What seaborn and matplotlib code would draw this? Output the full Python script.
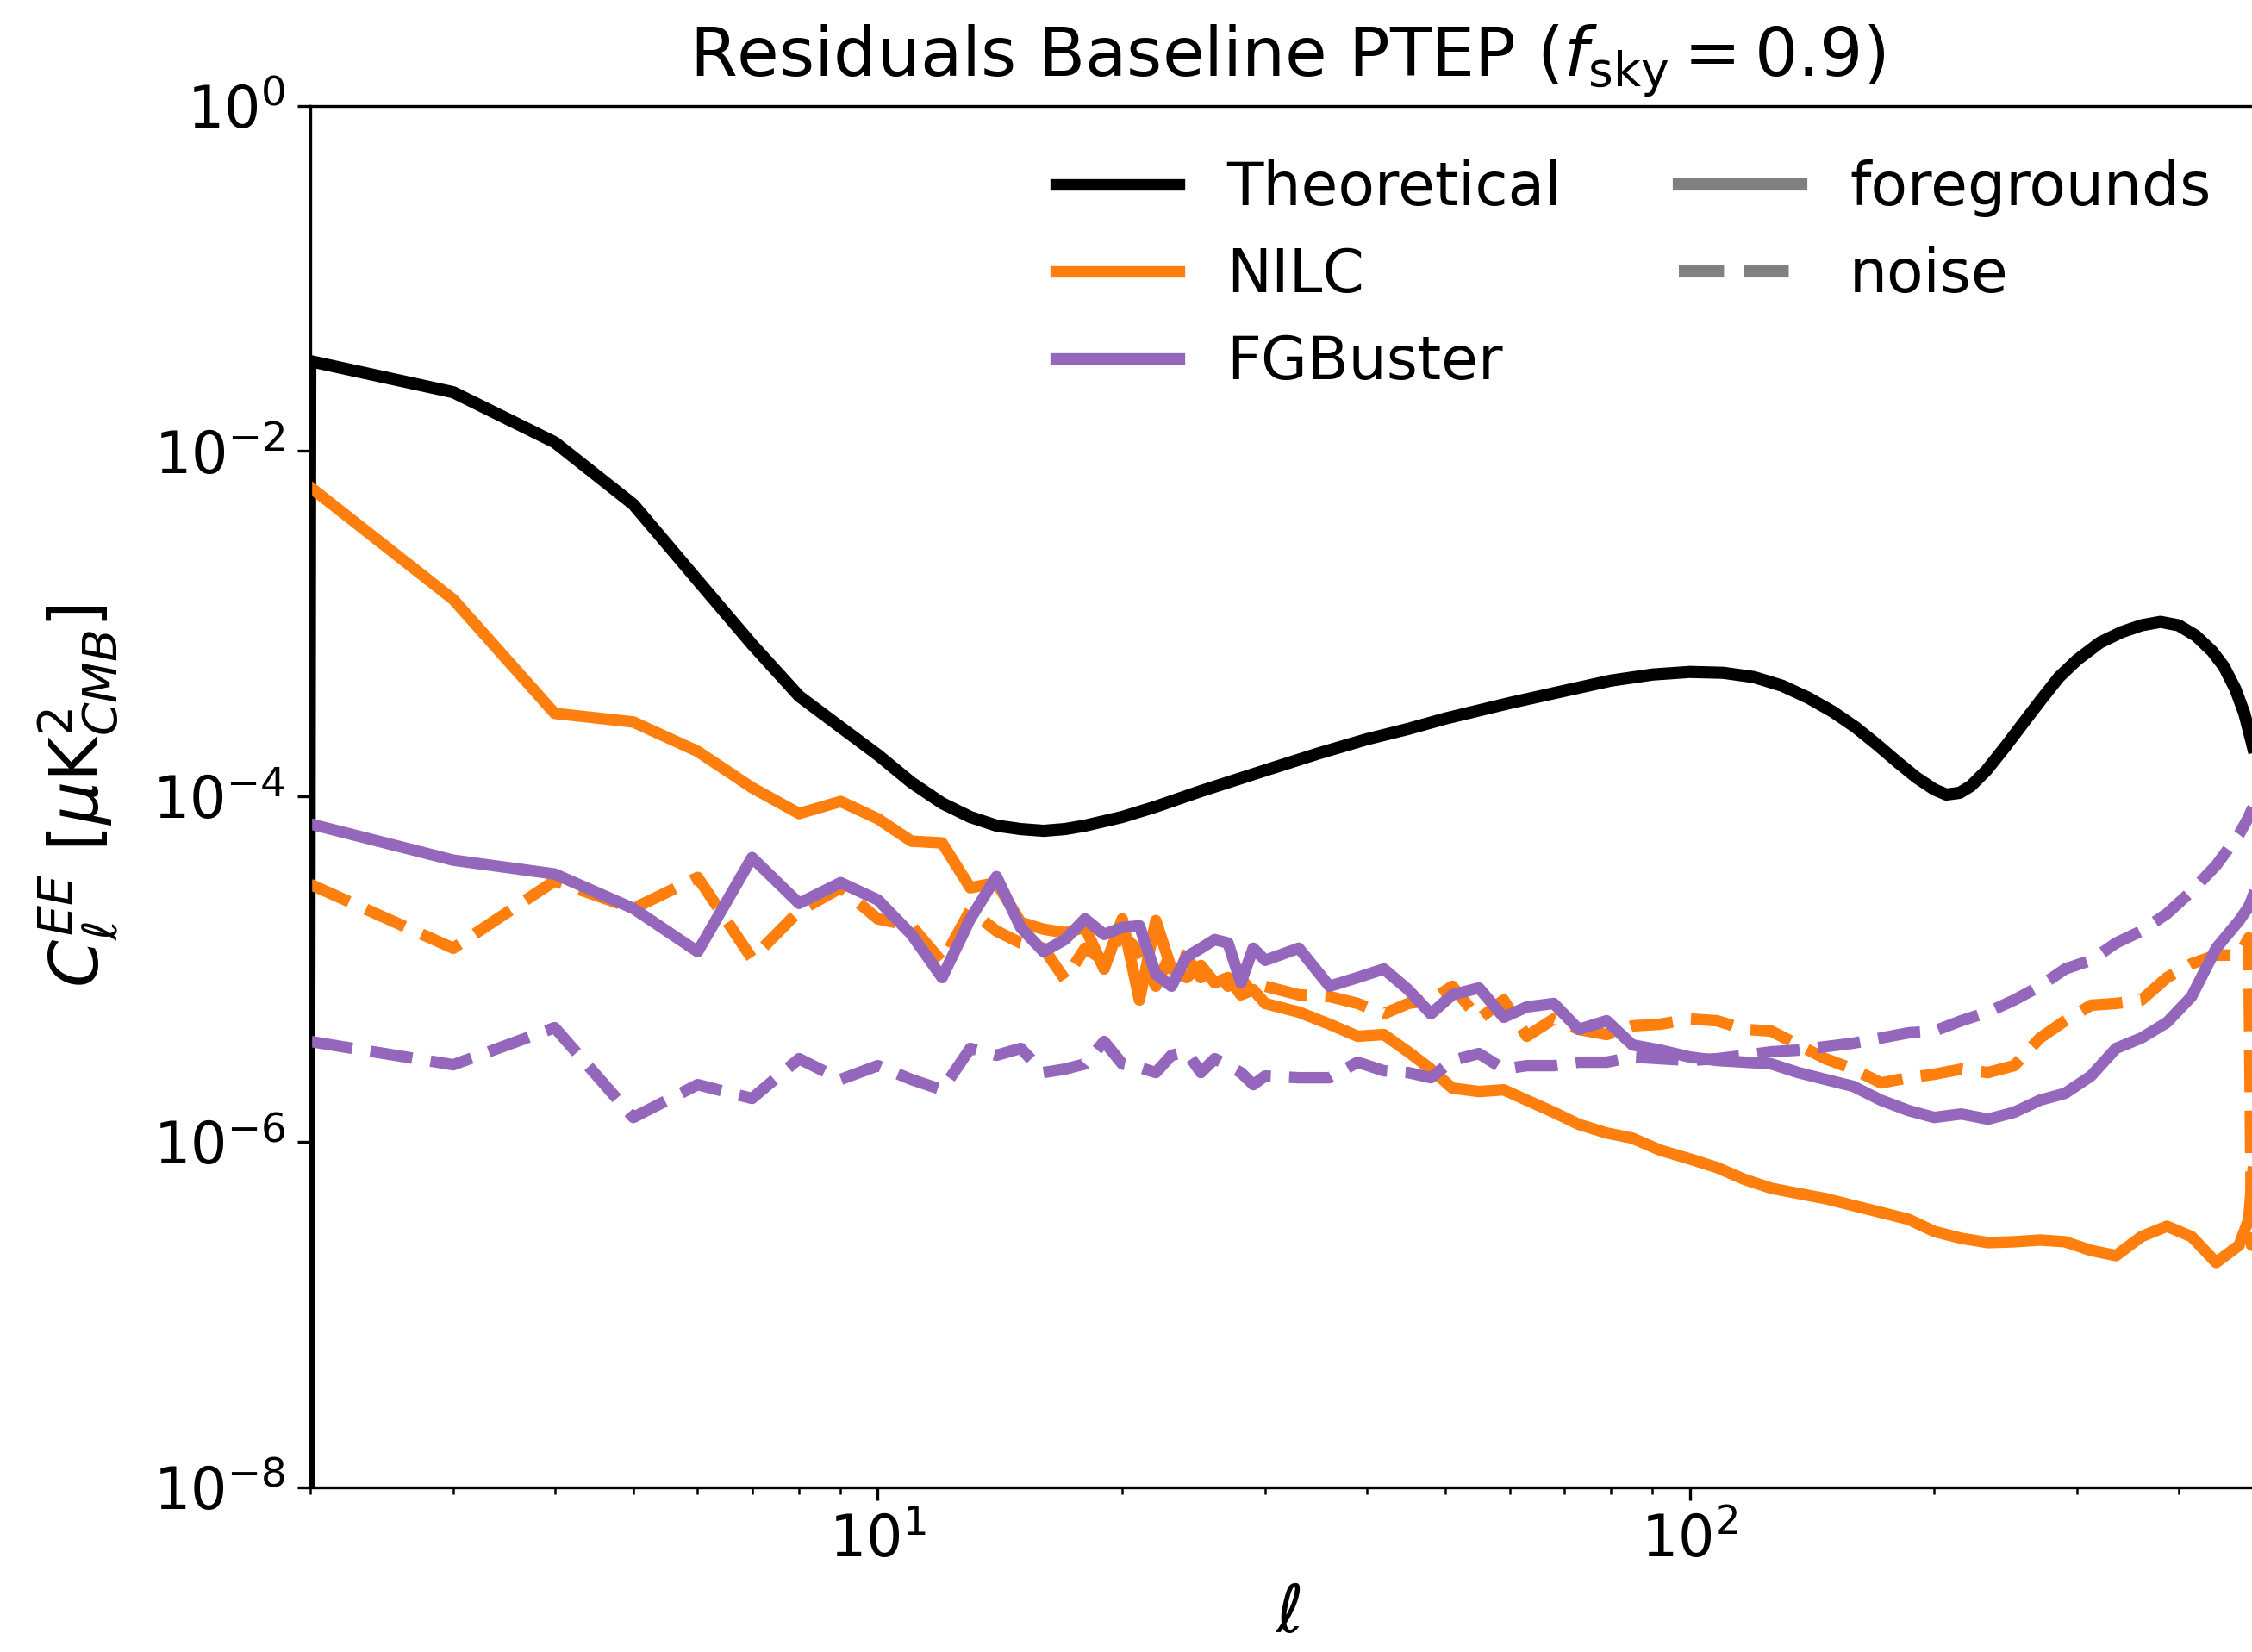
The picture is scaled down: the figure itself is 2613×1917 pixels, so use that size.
import numpy as np
import pandas as pd
import matplotlib
matplotlib.use("Agg")
import matplotlib.pyplot as plt
from matplotlib.lines import Line2D
import seaborn as sns

# ---------------- data ----------------
ell_theory = [0, 1, 2, 3, 4, 5, 6, 7, 8, 9, 10, 11, 12, 13, 14, 15, 16, 17, 18, 20, 22, 25,
              30, 35, 40, 45, 50, 60, 70, 80, 90, 100, 110, 120, 130, 140, 150, 160, 170,
              180, 190, 200, 207, 215, 222, 232, 245, 260, 272, 285, 300, 320, 340, 360,
              380, 400, 420, 440, 455, 470, 482, 493, 511]
log_cl_theory = [None, None, -1.48, -1.66, -1.95, -2.31, -2.75, -3.12, -3.42, -3.60, -3.76,
                 -3.92, -4.04, -4.12, -4.17, -4.19, -4.20, -4.19, -4.17, -4.12, -4.06, -3.97,
                 -3.85, -3.75, -3.67, -3.61, -3.55, -3.46, -3.39, -3.33, -3.295, -3.28,
                 -3.285, -3.31, -3.36, -3.43, -3.51, -3.60, -3.70, -3.80, -3.89, -3.96,
                 -3.99, -3.98, -3.94, -3.85, -3.71, -3.55, -3.43, -3.31, -3.21, -3.11, -3.05,
                 -3.01, -2.99, -3.01, -3.07, -3.16, -3.25, -3.38, -3.52, -3.70, -4.00]

ell_res = [2, 3, 4, 5, 6, 7, 8, 9, 10, 11, 12, 13, 14, 15, 16, 17, 18, 19, 20, 21, 22, 23,
           24, 25, 26, 27, 28, 29, 30, 33, 36, 39, 42, 45, 48, 51, 55, 59, 63, 68, 73, 79,
           85, 92, 100, 108, 117, 126, 136, 147, 159, 172, 186, 200, 216, 233, 251, 270,
           290, 312, 335, 360, 387, 415, 445, 475, 488, 492, 511]

log_nilc_fg = [-2.21, -2.86, -3.52, -3.57, -3.74, -3.95, -4.10, -4.03, -4.13, -4.26, -4.27,
               -4.53, -4.50, -4.73, -4.77, -4.79, -4.76, -5.00, -4.71, -5.18, -4.72, -5.00,
               -5.05, -4.98, -5.08, -5.05, -5.15, -5.12, -5.20, -5.25, -5.32, -5.39, -5.38,
               -5.48, -5.58, -5.69, -5.71, -5.70, -5.76, -5.83, -5.90, -5.95, -5.98, -6.05,
               -6.10, -6.15, -6.22, -6.27, -6.30, -6.33, -6.37, -6.41, -6.45, -6.52, -6.56,
               -6.585, -6.58, -6.57, -6.58, -6.63, -6.66, -6.55, -6.49, -6.55, -6.70, -6.60,
               -6.45, -6.25, -5.50]

log_nilc_noise = [-4.51, -4.88, -4.49, -4.65, -4.47, -4.94, -4.665, -4.53, -4.71, -4.75,
                  -4.96, -4.66, -4.78, -4.85, -4.88, -5.06, -4.88, -4.95, -4.80, -4.90, -5.10,
                  -4.90, -4.93, -5.05, -5.00, -5.10, -5.05, -5.15, -5.10, -5.15, -5.16, -5.20,
                  -5.26, -5.20, -5.18, -5.10, -5.29, -5.18, -5.39, -5.29, -5.35, -5.38, -5.33,
                  -5.32, -5.29, -5.30, -5.35, -5.36, -5.44, -5.52, -5.58, -5.66, -5.63, -5.61,
                  -5.58, -5.60, -5.56, -5.40, -5.30, -5.21, -5.20, -5.18, -5.05, -4.97, -4.92,
                  -4.92, -4.82, -6.60, -6.60]

log_fgb_fg = [-4.16, -4.37, -4.45, -4.65, -4.90, -4.355, -4.62, -4.50, -4.60, -4.80, -5.05,
              -4.71, -4.465, -4.76, -4.90, -4.83, -4.71, -4.80, -4.76, -4.75, -5.03, -5.10,
              -4.93, -4.88, -4.83, -4.85, -5.08, -4.88, -4.95, -4.88, -5.10, -5.05, -5.00,
              -5.12, -5.26, -5.15, -5.11, -5.28, -5.22, -5.20, -5.35, -5.30, -5.44, -5.47,
              -5.51, -5.53, -5.54, -5.55, -5.60, -5.64, -5.68, -5.76, -5.82, -5.86, -5.84,
              -5.87, -5.83, -5.76, -5.72, -5.62, -5.46, -5.40, -5.31, -5.16, -4.88, -4.72,
              -4.64, -4.60, -4.40]

log_fgb_noise = [-5.42, -5.555, -5.34, -5.86, -5.67, -5.75, -5.52, -5.64, -5.56, -5.64,
                 -5.70, -5.46, -5.50, -5.46, -5.60, -5.58, -5.55, -5.42, -5.55, -5.57, -5.60,
                 -5.50, -5.48, -5.60, -5.52, -5.56, -5.60, -5.67, -5.62, -5.63, -5.63, -5.54,
                 -5.59, -5.60, -5.63, -5.53, -5.49, -5.58, -5.56, -5.56, -5.54, -5.54, -5.51,
                 -5.52, -5.53, -5.52, -5.50, -5.48, -5.47, -5.45, -5.43, -5.40, -5.37, -5.36,
                 -5.30, -5.25, -5.18, -5.10, -5.00, -4.95, -4.85, -4.78, -4.68, -4.55, -4.40,
                 -4.22, -4.12, -4.08, -3.95]

methods = ["NILC", "FGBuster"]
kinds = ["foregrounds", "noise"]
colors = {"NILC": "#ff7f0e", "FGBuster": "#9467bd"}
legend_labels = ["Theoretical", "NILC", "FGBuster", "foregrounds", "noise"]
yticks = [1e0, 1e-2, 1e-4, 1e-6, 1e-8]
title = r"Residuals Baseline PTEP ($f_{\rm sky} = 0.9$)"

# ---------------- tables ----------------
series = {("NILC", "foregrounds"): log_nilc_fg,
          ("NILC", "noise"): log_nilc_noise,
          ("FGBuster", "foregrounds"): log_fgb_fg,
          ("FGBuster", "noise"): log_fgb_noise}
rows = []
for (m, k), vals in series.items():
    for l, v in zip(ell_res, vals):
        rows.append({"ell": l, "cl": 10.0 ** v, "method": m, "kind": k})
df_res = pd.DataFrame(rows)
# monopole/dipole are zero in the theory spectrum
df_th = pd.DataFrame({"ell": ell_theory,
                      "cl": [0.0 if v is None else 10.0 ** v for v in log_cl_theory]})

# ---------------- figure ----------------
W, H, DPI = 2613, 1917, 300
fig = plt.figure(figsize=(W / DPI, H / DPI), dpi=DPI)
ax = fig.add_axes([360 / W, 1 - 1725.5 / H, 2268 / W, (1725.5 - 122.5) / H])

sns.lineplot(data=df_th, x="ell", y="cl", color="black", linewidth=3.4,
             estimator=None, sort=True, ax=ax, legend=False)
sns.lineplot(data=df_res, x="ell", y="cl", hue="method", hue_order=methods,
             style="kind", style_order=kinds, palette=colors,
             dashes={"foregrounds": "", "noise": (3.7, 1.6)},
             linewidth=3.2, estimator=None, sort=True, ax=ax, legend=False)

ax.set_xscale("log")
ax.set_yscale("log")
ax.set_xlim(2, 511)
ax.set_ylim(1e-8, 1)
ax.set_yticks(yticks)
ax.yaxis.set_minor_locator(matplotlib.ticker.NullLocator())
ax.tick_params(labelsize=16)
ax.set_xlabel(r"$\ell$", fontsize=18.5, labelpad=3.5)
ax.set_ylabel(r"$C_\ell^{EE}$ [$\mu$K$^2_{CMB}$]", fontsize=19, labelpad=9)
ax.set_title(title, fontsize=19, pad=8)

handles = [Line2D([], [], color="black", lw=3.2),
           Line2D([], [], color=colors["NILC"], lw=3.2),
           Line2D([], [], color=colors["FGBuster"], lw=3.2),
           Line2D([], [], color="grey", lw=3.4),
           Line2D([], [], color="grey", lw=3.4, ls="--")]
ax.legend(handles, legend_labels, ncol=2, loc="upper right", frameon=False,
          fontsize=16.7, handlelength=2.05, columnspacing=1.95, labelspacing=0.49)

fig.savefig("out.png", dpi=DPI)
